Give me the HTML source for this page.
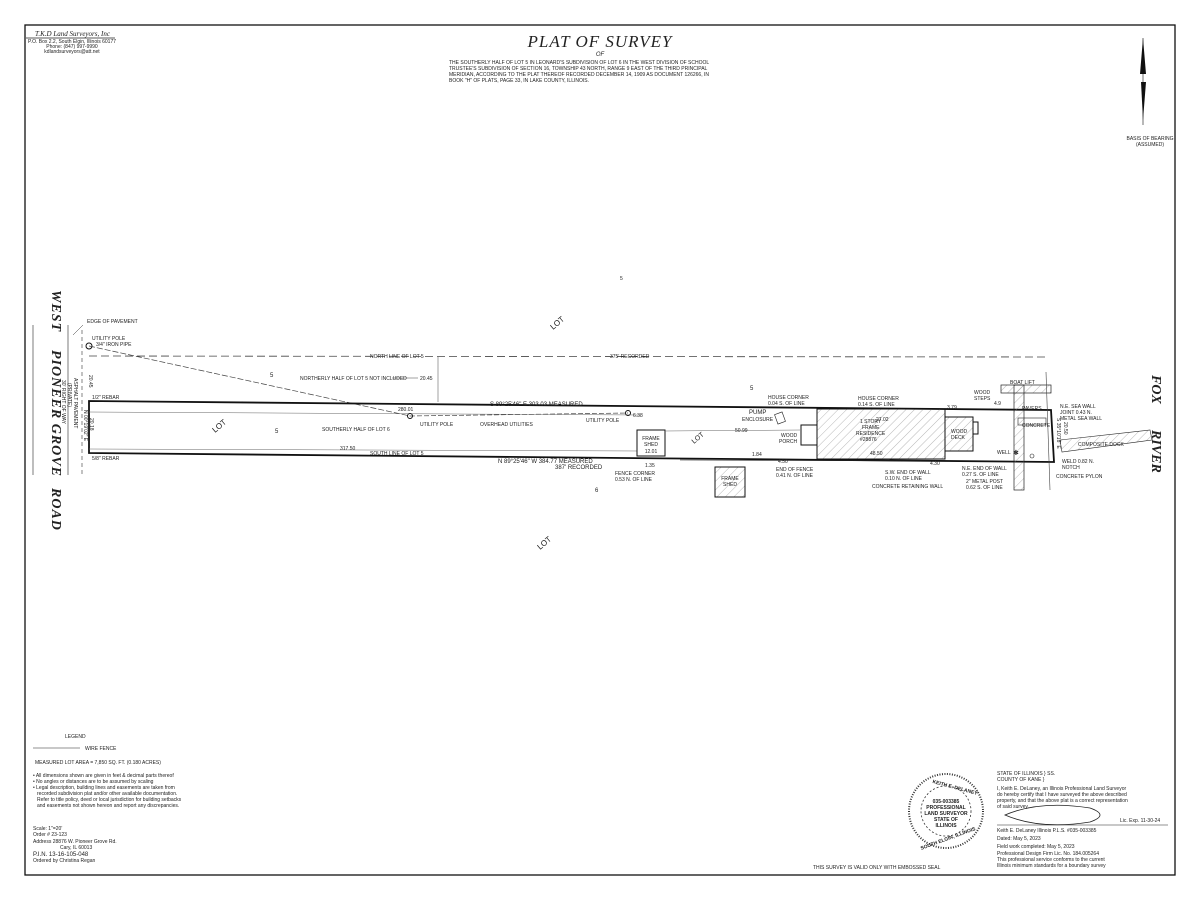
<!DOCTYPE html>
<html><head><meta charset="utf-8"><style>
html,body{margin:0;padding:0;background:#fff}
svg{display:block}
text{font-family:"Liberation Sans",sans-serif;fill:#222}
.s{font-size:5px}
.m{font-size:6px}
</style></head><body>
<svg width="1200" height="900" viewBox="0 0 1200 900" xmlns="http://www.w3.org/2000/svg">
<defs>
<pattern id="h" width="6" height="6" patternUnits="userSpaceOnUse" patternTransform="rotate(45)">
<line x1="0" y1="0" x2="0" y2="6" stroke="#888" stroke-width="0.6"/></pattern>
</defs>
<rect x="25" y="25" width="1150" height="850" fill="none" stroke="#111" stroke-width="1.3"/>
<!-- header -->
<text x="35" y="36" style="font-size:7px;font-style:italic;font-family:'Liberation Serif',serif">T.K.D Land Surveyors, Inc</text>
<line x1="26" y1="38" x2="115" y2="38" stroke="#222" stroke-width="0.7"/>
<text x="72" y="43" class="s" text-anchor="middle">P.O. Box 2.2, South Elgin, Illinois 60177</text>
<text x="72" y="48" class="s" text-anchor="middle">Phone: (847) 997-9990</text>
<text x="72" y="53" class="s" text-anchor="middle">kdlandsurveyors@att.net</text>
<text x="600" y="47" text-anchor="middle" style="font-size:17px;font-style:italic;font-family:'Liberation Serif',serif;letter-spacing:1px">PLAT OF SURVEY</text>
<text x="600" y="56" text-anchor="middle" style="font-size:6px;font-style:italic">OF</text>
<text x="449" y="64" class="s">THE SOUTHERLY HALF OF LOT 5 IN LEONARD'S SUBDIVISION OF LOT 6 IN THE WEST DIVISION OF SCHOOL</text>
<text x="449" y="70" class="s">TRUSTEE'S SUBDIVISION OF SECTION 16, TOWNSHIP 43 NORTH, RANGE 9 EAST OF THE THIRD PRINCIPAL</text>
<text x="449" y="76" class="s">MERIDIAN, ACCORDING TO THE PLAT THEREOF RECORDED DECEMBER 14, 1909 AS DOCUMENT 126266, IN</text>
<text x="449" y="82" class="s">BOOK "H" OF PLATS, PAGE 33, IN LAKE COUNTY, ILLINOIS.</text>
<!-- north arrow -->
<polygon points="1143,38 1140,74 1146,74" fill="#111"/>
<polygon points="1143,120 1141,82 1146,82" fill="#111"/>
<line x1="1143" y1="38" x2="1143" y2="125" stroke="#111" stroke-width="0.6"/>
<text x="1150" y="140" class="s" text-anchor="middle">BASIS OF BEARING</text>
<text x="1150" y="146" class="s" text-anchor="middle">(ASSUMED)</text>
<!-- road -->
<text transform="translate(52,290) rotate(90)" style="font-size:14px;font-weight:bold;font-style:italic;font-family:'Liberation Serif',serif;letter-spacing:1px">WEST</text>
<text transform="translate(52,350) rotate(90)" style="font-size:14px;font-weight:bold;font-style:italic;font-family:'Liberation Serif',serif;letter-spacing:1px">PIONEER   GROVE</text>
<text transform="translate(52,488) rotate(90)" style="font-size:14px;font-weight:bold;font-style:italic;font-family:'Liberation Serif',serif;letter-spacing:1px">ROAD</text>
<line x1="33" y1="325" x2="33" y2="475" stroke="#444" stroke-width="0.7"/>
<line x1="68" y1="325" x2="68" y2="475" stroke="#444" stroke-width="0.7"/>
<text transform="translate(62,380) rotate(90)" class="s">30' RIGHT OF WAY</text>
<text transform="translate(68,383) rotate(90)" class="s">(PRIVATE)</text>
<text transform="translate(74,378) rotate(90)" class="s">ASPHALT PAVEMENT</text>
<line x1="82" y1="330" x2="82" y2="475" stroke="#333" stroke-width="0.6" stroke-dasharray="4,3"/>
<line x1="73" y1="335" x2="83" y2="325" stroke="#333" stroke-width="0.5"/>
<text x="87" y="323" class="s">EDGE OF PAVEMENT</text>
<text x="92" y="340" class="s">UTILITY POLE</text>
<text x="96" y="346" class="s">3/4" IRON PIPE</text>
<circle cx="89" cy="346" r="3" fill="none" stroke="#111"/>
<!-- north line lot 5 -->
<line x1="89" y1="356" x2="1045" y2="357" stroke="#444" stroke-width="0.8" stroke-dasharray="8,4"/>
<text x="370" y="358" class="s">NORTH LINE OF LOT 5</text>
<text x="610" y="358" class="s">375' RECORDED</text>
<text x="300" y="380" class="s">NORTHERLY HALF OF LOT 5 NOT INCLUDED</text>
<line x1="392" y1="378" x2="418" y2="378" stroke="#444" stroke-width="0.5"/>
<text x="420" y="380" class="s">20.45</text>
<line x1="438" y1="357" x2="438" y2="402" stroke="#444" stroke-width="0.5"/>
<text x="270" y="377" class="m">5</text>
<text transform="translate(553,330) rotate(-40)" style="font-size:8px">LOT</text>
<text x="620" y="280" class="s">5</text>
<text x="89" y="375" transform="rotate(90,89,375)" class="s">20.45</text>
<!-- diagonal -->
<line x1="89" y1="346" x2="410" y2="416" stroke="#444" stroke-width="0.7" stroke-dasharray="6,2"/>
<line x1="410" y1="416" x2="628" y2="413" stroke="#444" stroke-width="0.7" stroke-dasharray="5,2"/>
<!-- parcel -->
<polygon points="89,401 1051,410 1054,462 89,453" fill="none" stroke="#111" stroke-width="1.8"/>
<line x1="89" y1="412" x2="640" y2="415" stroke="#666" stroke-width="0.5"/>
<line x1="89" y1="449" x2="640" y2="451" stroke="#666" stroke-width="0.5"/>
<text x="398" y="411" class="s">280.01</text>
<text x="340" y="450" class="s">317.50</text>
<text x="92" y="399" class="s">1/2" REBAR</text>
<text x="92" y="460" class="s">5/8" REBAR</text>
<text transform="translate(84,410) rotate(90)" class="s">N 00°19'02" E</text>
<text transform="translate(90,418) rotate(90)" class="s">20.18</text>
<text x="490" y="406" class="m">S 89°25'46" E 303.03 MEASURED</text>
<text x="370" y="455" class="s">SOUTH LINE OF LOT 5</text>
<text x="498" y="463" class="m">N 89°25'46" W 384.77 MEASURED</text>
<text x="555" y="469" class="m">387' RECORDED</text>
<text x="322" y="431" class="s">SOUTHERLY HALF OF LOT 6</text>
<text transform="translate(215,433) rotate(-40)" style="font-size:8px">LOT</text>
<text x="275" y="433" class="m">5</text>
<circle cx="410" cy="416" r="2.5" fill="none" stroke="#111"/>
<text x="420" y="426" class="s">UTILITY POLE</text>
<text x="480" y="426" class="s">OVERHEAD UTILITIES</text>
<circle cx="628" cy="413" r="2.5" fill="none" stroke="#111"/>
<text x="586" y="422" class="s">UTILITY POLE</text>
<text x="633" y="417" class="s">6.38</text>
<text x="595" y="492" class="m">6</text>
<text transform="translate(540,550) rotate(-40)" style="font-size:8px">LOT</text>
<!-- sheds -->
<rect x="637" y="430" width="28" height="26" fill="#fff" stroke="#111"/>
<text x="651" y="440" class="s" text-anchor="middle">FRAME</text>
<text x="651" y="446" class="s" text-anchor="middle">SHED</text>
<text x="651" y="453" class="s" text-anchor="middle">12.01</text>
<rect x="715" y="467" width="30" height="30" fill="url(#h)" stroke="#111"/>
<text x="730" y="480" class="s" text-anchor="middle">FRAME</text>
<text x="730" y="486" class="s" text-anchor="middle">SHED</text>
<text x="645" y="467" class="s">1.35</text>
<text x="615" y="475" class="s">FENCE CORNER</text>
<text x="615" y="481" class="s">0.53 N. OF LINE</text>
<text transform="translate(694,444) rotate(-40)" style="font-size:7px">LOT</text>
<text x="749" y="414" class="m">PUMP</text>
<text x="742" y="421" class="s">ENCLOSURE</text>
<rect x="776" y="413" width="8" height="10" fill="none" stroke="#222" stroke-width="0.6" transform="rotate(-20,780,418)"/>
<line x1="665" y1="431" x2="800" y2="430" stroke="#666" stroke-width="0.5"/>
<text x="735" y="432" class="s">50.99</text>
<text x="752" y="456" class="s">1.84</text>
<!-- fence -->
<line x1="680" y1="460" x2="950" y2="461" stroke="#222" stroke-width="0.6"/>
<!-- house -->
<rect x="817" y="409" width="128" height="50" fill="url(#h)" stroke="#111" stroke-width="1"/>
<rect x="801" y="425" width="16" height="20" fill="none" stroke="#111"/>
<rect x="945" y="417" width="28" height="34" fill="url(#h)" stroke="#111"/>
<rect x="973" y="422" width="5" height="12" fill="none" stroke="#111"/>
<text x="860" y="423" class="s">1 STORY</text>
<text x="862" y="429" class="s">FRAME</text>
<text x="856" y="435" class="s">RESIDENCE</text>
<text x="860" y="441" class="s">#28876</text>
<text x="870" y="455" class="s">48.50</text>
<text x="876" y="421" class="s">27.02</text>
<text x="951" y="433" class="s">WOOD</text>
<text x="951" y="439" class="s">DECK</text>
<text x="781" y="437" class="s">WOOD</text>
<text x="779" y="443" class="s">PORCH</text>
<text x="768" y="399" class="s">HOUSE CORNER</text>
<text x="768" y="405" class="s">0.04 S. OF LINE</text>
<text x="858" y="400" class="s">HOUSE CORNER</text>
<text x="858" y="406" class="s">0.14 S. OF LINE</text>
<text x="750" y="390" class="m">5</text>
<text x="776" y="471" class="s">END OF FENCE</text>
<text x="776" y="477" class="s">0.41 N. OF LINE</text>
<text x="778" y="463" class="s">4.50</text>
<text x="947" y="409" class="s">3.79</text>
<text x="1022" y="427" class="s">CONCRETE</text>
<text x="1022" y="410" class="s">PAVERS</text>
<rect x="1018" y="418" width="28" height="7" fill="none" stroke="#222" stroke-width="0.6"/>
<text x="997" y="454" class="s">WELL</text>
<text x="1013" y="455" style="font-size:7px">✱</text>
<text x="885" y="474" class="s">S.W. END OF WALL</text>
<text x="885" y="480" class="s">0.10 N. OF LINE</text>
<text x="872" y="488" class="s">CONCRETE RETAINING WALL</text>
<text x="930" y="465" class="s">4.30</text>
<text x="962" y="470" class="s">N.E. END OF WALL</text>
<text x="962" y="476" class="s">0.27 S. OF LINE</text>
<text x="966" y="483" class="s">2" METAL POST</text>
<text x="966" y="489" class="s">0.62 S. OF LINE</text>
<!-- sea wall / boat lift -->
<rect x="1014" y="385" width="10" height="105" fill="url(#h)" stroke="#222" stroke-width="0.7"/>
<rect x="1001" y="385" width="50" height="8" fill="url(#h)" stroke="#222" stroke-width="0.7"/>
<text x="1010" y="384" class="s">BOAT LIFT</text>
<text x="974" y="394" class="s">WOOD</text>
<text x="974" y="400" class="s">STEPS</text>
<text x="994" y="405" class="s">4.9</text>
<line x1="1046" y1="372" x2="1050" y2="490" stroke="#444" stroke-width="0.6"/>
<polygon points="1060,440 1150,430 1152,440 1062,452" fill="url(#h)" stroke="#222" stroke-width="0.6"/>
<text x="1078" y="446" class="s">COMPOSITE DOCK</text>
<text x="1060" y="408" class="s">N.E. SEA WALL</text>
<text x="1060" y="414" class="s">JOINT 0.43 N.</text>
<text x="1060" y="420" class="s">METAL SEA WALL</text>
<text transform="translate(1057,418) rotate(90)" class="s">S 35°10'18" E</text>
<text transform="translate(1064,422) rotate(90)" class="s">20.50</text>
<text x="1062" y="463" class="s">WELD 0.82 N.</text>
<text x="1062" y="469" class="s">NOTCH</text>
<text x="1056" y="478" class="s">CONCRETE PYLON</text>
<circle cx="1032" cy="456" r="2" fill="none" stroke="#222" stroke-width="0.6"/>
<text transform="translate(1152,375) rotate(90)" style="font-size:14px;font-weight:bold;font-style:italic;font-family:'Liberation Serif',serif">FOX</text>
<text transform="translate(1152,430) rotate(90)" style="font-size:14px;font-weight:bold;font-style:italic;font-family:'Liberation Serif',serif">RIVER</text>
<!-- legend -->
<text x="65" y="738" class="s">LEGEND</text>
<line x1="33" y1="748" x2="80" y2="748" stroke="#222" stroke-width="0.6"/>
<text x="85" y="750" class="s">WIRE FENCE</text>
<text x="35" y="764" class="s">MEASURED LOT AREA = 7,850 SQ. FT. (0.180 ACRES)</text>
<text x="33" y="777" class="s">• All dimensions shown are given in feet &amp; decimal parts thereof</text>
<text x="33" y="783" class="s">• No angles or distances are to be assumed by scaling</text>
<text x="33" y="789" class="s">• Legal description, building lines and easements are taken from</text>
<text x="37" y="795" class="s">recorded subdivision plat and/or other available documentation.</text>
<text x="37" y="801" class="s">Refer to title policy, deed or local jurisdiction for building setbacks</text>
<text x="37" y="807" class="s">and easements not shown hereon and report any discrepancies.</text>
<text x="33" y="830" class="s">Scale:       1"=20'</text>
<text x="33" y="836" class="s">Order #      23-123</text>
<text x="33" y="843" class="s">Address  28876 W. Pioneer Grove Rd.</text>
<text x="60" y="849" class="s">Cary, IL 60013</text>
<text x="33" y="856" style="font-size:6px">P.I.N. 13-16-105-048</text>
<text x="33" y="862" class="s">Ordered by  Christina Regan</text>
<!-- seal -->
<circle cx="946" cy="811" r="37" fill="none" stroke="#333" stroke-width="2" stroke-dasharray="1,1.5"/>
<circle cx="946" cy="811" r="25" fill="none" stroke="#333" stroke-width="0.8" stroke-dasharray="2,2"/>
<text x="946" y="803" class="s" text-anchor="middle" font-weight="bold">035-003385</text>
<text x="946" y="809" class="s" text-anchor="middle" font-weight="bold">PROFESSIONAL</text>
<text x="946" y="815" class="s" text-anchor="middle" font-weight="bold">LAND SURVEYOR</text>
<text x="946" y="821" class="s" text-anchor="middle" font-weight="bold">STATE OF</text>
<text x="946" y="827" class="s" text-anchor="middle" font-weight="bold">ILLINOIS</text>
<text x="932" y="785" class="s" font-weight="bold" transform="rotate(15,940,785)">KEITH E. DELANEY</text>
<text x="920" y="843" class="s" font-weight="bold" transform="rotate(-20,940,843)">SOUTH ELGIN, ILLINOIS</text>
<text x="813" y="869" class="s">THIS SURVEY IS VALID ONLY WITH EMBOSSED SEAL</text>
<!-- cert -->
<text x="997" y="775" class="s">STATE OF ILLINOIS } SS.</text>
<text x="997" y="781" class="s">COUNTY OF KANE    }</text>
<text x="997" y="790" class="s">I, Keith E. DeLaney, an Illinois Professional Land Surveyor</text>
<text x="997" y="796" class="s">do hereby certify that I have surveyed the above described</text>
<text x="997" y="802" class="s">property, and that the above plat is a correct representation</text>
<text x="997" y="808" class="s">of said survey.</text>
<path d="M1005,815 Q1040,800 1090,808 Q1110,815 1090,822 Q1040,830 1005,815 Z" fill="none" stroke="#222" stroke-width="0.8"/>
<line x1="997" y1="825" x2="1168" y2="825" stroke="#222" stroke-width="0.5"/>
<text x="1120" y="822" class="s">Lic. Exp. 11-30-24</text>
<text x="997" y="832" class="s">Keith E. DeLaney    Illinois P.L.S. #035-003385</text>
<text x="997" y="840" class="s">Dated: May 5, 2023</text>
<text x="997" y="848" class="s">Field work completed: May 5, 2023</text>
<text x="997" y="855" class="s">Professional Design Firm Lic. No. 184.005264</text>
<text x="997" y="861" class="s">This professional service conforms to the current</text>
<text x="997" y="867" class="s">Illinois minimum standards for a boundary survey</text>
</svg>
</body></html>
